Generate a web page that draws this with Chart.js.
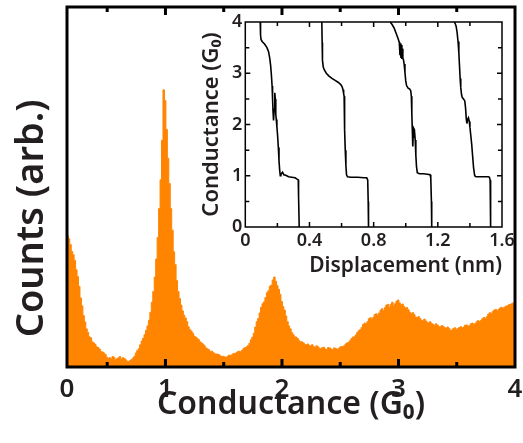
<!DOCTYPE html>
<html>
<head>
<meta charset="utf-8">
<script src="https://cdn.jsdelivr.net/npm/chart.js@4.4.0/dist/chart.umd.min.js"></script>
<style>
  body { margin: 0; background: #fff; }
  #wrap { position: relative; width: 523px; height: 443px; }
  #histChart { position: absolute; left: 0; top: 0; }
  #insetChart { position: absolute; left: 190px; top: 12px; }
</style>
</head>
<body>
<div id="wrap">
  <canvas id="histChart" width="523" height="443"></canvas>
  <canvas id="insetChart" width="330" height="275"></canvas>
</div>
<script>
// histogram: bins of 0.0125 G0 starting at 0.16
var binStart = 0.16;
var binWidth = 0.0125;
var counts = [
  36.5, 35.6, 34, 32.1, 31.2, 29.6, 27, 25.1, 22.4, 19.2,
  17, 14.3, 12.5, 10.6, 9.6, 8.4, 8.1, 7.0, 6.7, 6.3,
  5.6, 5.4, 5.0, 4.3, 4.2, 3.9, 3.5, 2.7, 2.4, 2.6,
  2.2, 2.9, 2.7, 2.0, 2.3, 2.6, 2.9, 2.2, 2.6, 2.4,
  2.0, 1.6, 1.5, 1.8, 2.1, 2.5, 3.0, 3.9, 4.6, 5.1,
  6.2, 7.2, 8.0, 9.0, 10.2, 11.4, 13, 15.2, 18, 21,
  25, 30, 36, 44, 52, 63, 77, 74, 66, 58,
  51, 44, 38, 32, 28.5, 24, 21, 19, 17.2, 15.6,
  14.4, 13.6, 12.6, 11.2, 10.4, 10.0, 9.4, 8.6, 8.3, 8.0,
  7.6, 7.0, 6.7, 6.4, 5.9, 5.3, 5.1, 4.8, 4.3, 4.4,
  4.1, 3.7, 3.6, 3.6, 3.4, 3.1, 2.9, 3.0, 2.8, 2.7,
  3.0, 3.3, 3.2, 3.4, 3.8, 3.7, 4.0, 4.3, 4.4, 4.3,
  4.7, 5.2, 5.4, 5.6, 6.0, 6.6, 7.6, 8.3, 9.4, 11.1,
  12.6, 13.5, 15, 16.6, 17.6, 18.1, 19.3, 20.6, 21.2, 22.4,
  22.8, 24.2, 25, 23.8, 22.6, 21.6, 20.2, 18.2, 16.8, 15.8,
  14.2, 12.6, 11.4, 10.6, 9.6, 9.0, 8.4, 8.3, 7.9, 7.3,
  7.0, 7.0, 6.7, 6.3, 6.2, 6.4, 6.0, 5.8, 6.2, 5.7,
  5.5, 5.9, 5.6, 5.2, 5.1, 5.4, 5.5, 5.0, 4.9, 5.4,
  5.3, 5.0, 4.8, 5.3, 5.2, 4.9, 5.1, 5.5, 5.7, 5.6,
  5.9, 6.4, 6.7, 6.9, 7.3, 7.9, 8.3, 8.4, 8.9, 9.6,
  10.1, 10.4, 11.0, 11.8, 12.2, 12.0, 12.6, 13.4, 13.7, 13.2,
  13.8, 14.6, 14.8, 14.3, 15.0, 15.8, 16.2, 15.6, 16.5, 17.2,
  17.4, 16.6, 17.4, 18.0, 17.0, 17.6, 18.3, 18.6, 17.8, 17.2,
  17.5, 16.8, 16.4, 16.5, 15.9, 15.2, 14.8, 15.1, 14.6, 13.9,
  13.6, 14.0, 13.5, 13.0, 12.8, 13.3, 12.8, 12.4, 12.2, 12.6,
  12.1, 11.8, 11.6, 12.0, 11.7, 11.2, 11.2, 11.5, 11.3, 10.9,
  10.8, 11.1, 10.7, 10.2, 10.3, 10.7, 10.9, 10.5, 10.7, 11.0,
  11.2, 10.8, 11.1, 11.6, 11.7, 11.3, 11.5, 12.0, 12.2, 11.8,
  12.1, 12.6, 12.9, 12.6, 13.0, 13.5, 13.8, 13.5, 14.0, 14.7,
  15.1, 14.8, 15.4, 15.8, 16.0, 15.6, 16.0, 16.4, 16.6, 16.1,
  16.6, 16.9, 17.0, 17.3, 17.4, 17.6, 17.8, 18.0, 18.2, 18.4
];
var histTicks = [0.155, 1, 2, 3, 4];
var histTickLabels = ['0', '1', '2', '3', '4'];
var histMinor = [0.5, 1.5, 2.5, 3.5];
var histMajor = [1, 2, 3];

// inset: four conductance traces
var trace1Disp = [0.093, 0.097, 0.093, 0.098, 0.105, 0.120, 0.135, 0.145, 0.152, 0.158, 0.163, 0.167, 0.170, 0.173, 0.176, 0.180, 0.184, 0.187, 0.190, 0.193, 0.197, 0.201, 0.206, 0.210, 0.214, 0.218, 0.222, 0.232, 0.240, 0.252, 0.270, 0.290, 0.310, 0.325, 0.330, 0.332, 0.336];
var trace1G = [4.0, 3.85, 3.75, 3.66, 3.62, 3.57, 3.50, 3.42, 3.30, 3.15, 2.95, 2.75, 2.50, 2.25, 2.08, 2.30, 2.62, 2.50, 2.20, 2.10, 1.95, 1.80, 1.55, 1.30, 1.12, 1.00, 1.03, 1.07, 1.02, 1.01, 0.98, 0.97, 0.96, 0.93, 0.92, 0.60, 0.0];
var trace2Disp = [0.477, 0.479, 0.481, 0.486, 0.492, 0.505, 0.520, 0.540, 0.560, 0.580, 0.595, 0.603, 0.609, 0.613, 0.616, 0.618, 0.620, 0.623, 0.627, 0.631, 0.637, 0.660, 0.700, 0.740, 0.757, 0.763, 0.766, 0.768];
var trace2G = [4.0, 3.6, 3.25, 3.12, 3.07, 3.0, 2.95, 2.9, 2.86, 2.82, 2.78, 2.74, 2.68, 2.60, 2.55, 2.3, 1.9, 1.5, 1.2, 1.02, 0.98, 0.97, 0.97, 0.96, 0.96, 0.92, 0.5, 0.0];
var trace3Disp = [0.903, 0.915, 0.928, 0.940, 0.952, 0.960, 0.964, 0.967, 0.970, 0.973, 0.976, 0.979, 0.982, 0.986, 0.990, 0.995, 1.000, 1.005, 1.015, 1.025, 1.031, 1.035, 1.038, 1.041, 1.044, 1.046, 1.049, 1.054, 1.059, 1.063, 1.067, 1.072, 1.085, 1.110, 1.135, 1.152, 1.156, 1.160, 1.162];
var trace3G = [4.0, 3.95, 3.88, 3.78, 3.68, 3.60, 3.35, 3.58, 3.30, 3.55, 3.28, 3.48, 3.30, 3.26, 3.18, 3.02, 2.85, 2.76, 2.71, 2.69, 2.66, 2.55, 2.20, 1.90, 1.57, 1.75, 1.93, 1.90, 1.70, 1.40, 1.18, 1.06, 1.04, 1.04, 1.03, 1.02, 0.96, 0.5, 0.0];
var trace4Disp = [1.303, 1.308, 1.314, 1.320, 1.326, 1.331, 1.335, 1.339, 1.343, 1.348, 1.352, 1.360, 1.368, 1.373, 1.377, 1.381, 1.386, 1.391, 1.396, 1.400, 1.405, 1.411, 1.417, 1.423, 1.430, 1.438, 1.460, 1.490, 1.515, 1.522, 1.526, 1.528, 1.530];
var trace4G = [4.0, 3.97, 3.92, 3.80, 3.62, 3.40, 3.15, 2.90, 2.72, 2.58, 2.53, 2.50, 2.46, 2.32, 2.12, 2.02, 2.10, 2.13, 2.06, 1.95, 1.80, 1.62, 1.38, 1.15, 1.00, 0.98, 0.98, 0.98, 0.98, 0.97, 0.91, 0.5, 0.0];
var insetXTicks = [0, 0.4, 0.8, 1.2, 1.6];

var textColor = '#231f20';
Chart.defaults.font.family = "'Noto Sans', sans-serif";
Chart.defaults.color = textColor;

// frame box + inward tick marks
var frameTicks = {
  id: 'frameTicks',
  afterDraw: function(chart, args, o) {
    var ctx = chart.ctx, a = chart.chartArea;
    var xs = chart.scales.x, ys = chart.scales.y;
    ctx.save();
    ctx.strokeStyle = '#000';
    ctx.lineWidth = o.tickWidth;
    ctx.beginPath();
    function xt(v, len) {
      var p = xs.getPixelForValue(v);
      ctx.moveTo(p, a.bottom); ctx.lineTo(p, a.bottom - len);
      ctx.moveTo(p, a.top); ctx.lineTo(p, a.top + len);
    }
    function yt(v, len) {
      var p = ys.getPixelForValue(v);
      ctx.moveTo(a.left, p); ctx.lineTo(a.left + len, p);
      ctx.moveTo(a.right, p); ctx.lineTo(a.right - len, p);
    }
    (o.xMajor || []).forEach(function(v) { xt(v, o.majorLen); });
    (o.xMinor || []).forEach(function(v) { xt(v, o.minorLen); });
    (o.yMajor || []).forEach(function(v) { yt(v, o.majorLen); });
    (o.yMinor || []).forEach(function(v) { yt(v, o.minorLen); });
    ctx.stroke();
    ctx.lineWidth = o.frameWidth;
    ctx.strokeRect(a.left, a.top, a.right - a.left, a.bottom - a.top);
    ctx.restore();
  }
};

var histPoints = counts.map(function(c, i) {
  return { x: binStart + i * binWidth, y: c };
});

new Chart(document.getElementById('histChart'), {
  type: 'line',
  data: {
    datasets: [{
      data: histPoints,
      stepped: 'middle',
      fill: 'origin',
      backgroundColor: '#ff8400',
      borderColor: '#ff8400',
      borderWidth: 1,
      pointRadius: 0
    }]
  },
  options: {
    responsive: false,
    animation: false,
    layout: { padding: { left: 0, right: 8, top: 7, bottom: 0 } },
    plugins: {
      legend: { display: false },
      tooltip: { enabled: false },
      frameTicks: {
        frameWidth: 3, tickWidth: 3, majorLen: 8, minorLen: 5,
        xMajor: histMajor, xMinor: histMinor
      }
    },
    scales: {
      x: {
        type: 'linear', min: 0.155, max: 4,
        afterBuildTicks: function(axis) {
          axis.ticks = histTicks.map(function(v) { return { value: v }; });
        },
        ticks: {
          autoSkip: false, maxRotation: 0, padding: 0,
          font: { size: 26, weight: '600', lineHeight: 0.5 },
          callback: function(v, i) { return histTickLabels[i]; }
        },
        grid: { display: false, drawTicks: true, tickLength: 16.5 },
        border: { display: false },
        title: {
          display: true, text: 'Conductance (G\u2080)',
          font: { size: 32, weight: '600', lineHeight: 0.5 },
          padding: { top: 0.5, bottom: 30 }
        }
      },
      y: {
        min: 0, max: 100,
        ticks: { display: false },
        grid: { display: false, drawTicks: false },
        border: { display: false },
        title: {
          display: true, text: '\u00a0\u00a0\u00a0Counts (arb.)', align: 'start',
          font: { size: 38, weight: '600', lineHeight: 1 },
          padding: { top: 13, bottom: 16 }
        }
      }
    }
  },
  plugins: [frameTicks]
});

function traceSet(xs, ys) {
  return {
    data: xs.map(function(x, i) { return { x: x, y: ys[i] }; }),
    borderColor: '#000',
    borderWidth: 1.6,
    pointRadius: 0,
    tension: 0,
    fill: false
  };
}

new Chart(document.getElementById('insetChart'), {
  type: 'line',
  data: {
    datasets: [
      traceSet(trace1Disp, trace1G),
      traceSet(trace2Disp, trace2G),
      traceSet(trace3Disp, trace3G),
      traceSet(trace4Disp, trace4G)
    ]
  },
  options: {
    responsive: false,
    animation: false,
    layout: { padding: { left: 0, right: 18, top: 10, bottom: 0 } },
    plugins: {
      legend: { display: false },
      tooltip: { enabled: false },
      frameTicks: {
        frameWidth: 1.5, tickWidth: 1.5, majorLen: 5, minorLen: 4,
        xMajor: [0.4, 0.8, 1.2], xMinor: [0.2, 0.6, 1.0, 1.4],
        yMajor: [1, 2, 3], yMinor: [0.5, 1.5, 2.5, 3.5]
      }
    },
    scales: {
      x: {
        type: 'linear', min: 0, max: 1.6,
        afterBuildTicks: function(axis) {
          axis.ticks = insetXTicks.map(function(v) { return { value: v }; });
        },
        ticks: {
          autoSkip: false, maxRotation: 0, padding: 0,
          font: { size: 18, weight: '600', lineHeight: 1 }
        },
        grid: { display: false, drawTicks: true, tickLength: 5 },
        border: { display: false },
        title: {
          display: true, text: 'Displacement (nm)', align: 'end',
          font: { size: 21, weight: '600', lineHeight: 1 },
          padding: { top: 5.5, bottom: 10.5 }
        }
      },
      y: {
        min: 0, max: 4,
        ticks: {
          stepSize: 1, padding: 0,
          font: { size: 18, weight: '600', lineHeight: 1 }
        },
        grid: { display: false, drawTicks: true, tickLength: 3 },
        border: { display: false },
        title: {
          display: true, text: 'Conductance (G\u2080)',
          font: { size: 22, weight: '600', lineHeight: 1 },
          padding: { top: 11, bottom: 9 }
        }
      }
    }
  },
  plugins: [frameTicks]
});
</script>
</body>
</html>
